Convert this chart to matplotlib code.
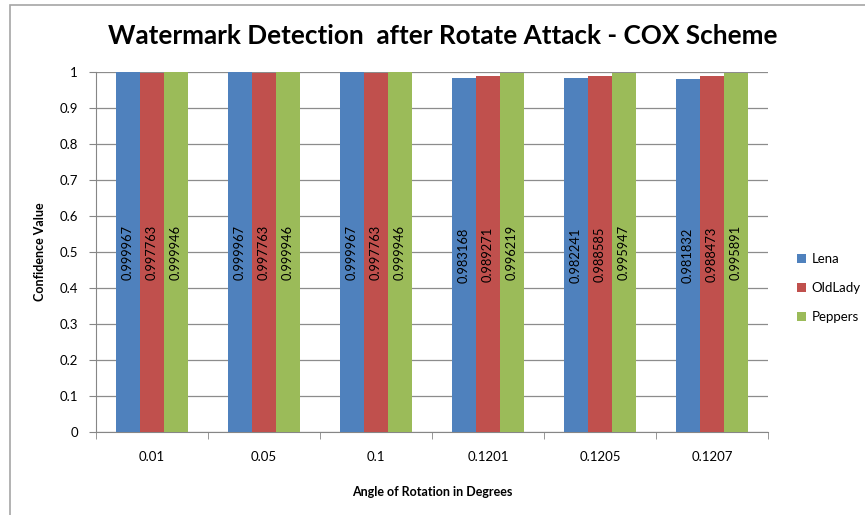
import numpy as np
import matplotlib.pyplot as plt
from matplotlib.patches import Rectangle

angles = ['0.01', '0.05', '0.1', '0.1201', '0.1205', '0.1207']
lena = [0.999967, 0.999967, 0.999967, 0.983168, 0.982241, 0.981832]
oldlady = [0.997763, 0.997763, 0.997763, 0.989271, 0.988585, 0.988473]
peppers = [0.999946, 0.999946, 0.999946, 0.996219, 0.995947, 0.995891]

series = [('Lena', lena, '#4F81BD'),
          ('OldLady', oldlady, '#C0504D'),
          ('Peppers', peppers, '#9BBB59')]

plt.rcParams['font.family'] = ['Lato', 'DejaVu Sans']

fig = plt.figure(figsize=(8.65, 5.15), dpi=100)
# chart area frame, like the Excel border
fig.patches.append(Rectangle((10 / 865, -0.05), 1.0, 1 - 5 / 515 + 0.05,
                             transform=fig.transFigure, fill=False,
                             edgecolor='#A6A6A6', linewidth=1.2))

ax = fig.add_axes([96 / 865, 1 - 432 / 515, 672 / 865, 360 / 515])

x = np.arange(len(angles))
w = 0.214
for i, (name, vals, col) in enumerate(series):
    pos = x + (i - 1) * w
    bars = ax.bar(pos, vals, w, color=col, label=name, zorder=3)
    for b, v in zip(bars, vals):
        ax.text(b.get_x() + b.get_width() / 2, v / 2, f'{v:.6f}',
                rotation=90, ha='center', va='center', fontsize=9.3,
                color='black', zorder=4)

ax.set_xlim(-0.5, len(angles) - 0.5)
ax.set_ylim(0, 1)
ax.set_yticks(np.arange(0, 1.01, 0.1))
ax.set_yticklabels(['0', '0.1', '0.2', '0.3', '0.4', '0.5', '0.6', '0.7',
                    '0.8', '0.9', '1'])
ax.yaxis.grid(True, color='#8C8C8C', linewidth=0.9, zorder=0)

ax.set_xticks(x)
ax.set_xticklabels(angles)
ax.tick_params(axis='x', length=0, pad=14, labelsize=9.5)
ax.set_xticks(np.arange(-0.5, len(angles), 1), minor=True)
ax.tick_params(axis='x', which='minor', length=5, color='#868686')
ax.tick_params(axis='y', length=5, color='#868686', labelsize=9.5, pad=8)

for s in ['top', 'right']:
    ax.spines[s].set_visible(False)
for s in ['left', 'bottom']:
    ax.spines[s].set_color('#868686')

ax.set_xlabel('Angle of Rotation in Degrees', fontsize=9, fontweight='bold',
              labelpad=16)
ax.set_ylabel('Confidence Value', fontsize=9, fontweight='bold', labelpad=10)
fig.text(443 / 865, 1 - 36 / 515, 'Watermark Detection  after Rotate Attack - COX Scheme',
         ha='center', va='center', fontsize=18.8, fontweight='bold')

fig.legend(loc='center left', bbox_to_anchor=(785 / 865, 1 - 288 / 515),
           frameon=False, fontsize=9.5, handlelength=0.7, handleheight=0.7,
           labelspacing=1.3, handletextpad=0.4)

fig.savefig('out.png', dpi=100)
